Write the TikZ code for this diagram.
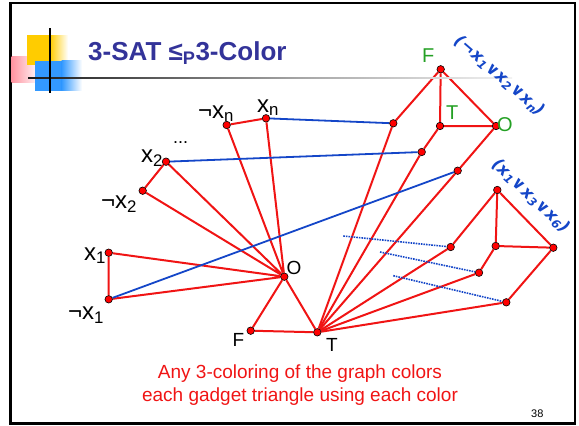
\documentclass[tikz,border=0pt]{standalone}
\usepackage{fontspec}
\setmainfont{Liberation Sans}
\newfontfamily\clausefont{DejaVu Sans}
\usetikzlibrary{
  positioning,
  calc,
  backgrounds
}
\definecolor{scTitle}{HTML}{333399}
\definecolor{scRed}{HTML}{F01414}
\definecolor{scBlue}{HTML}{1446C8}
\definecolor{scGreen}{HTML}{24A024}
\definecolor{scYellow}{HTML}{FFCC00}
\definecolor{scSky}{HTML}{3399FF}
\definecolor{scPink}{HTML}{FF7A8A}
\tikzset{
  vtx/.style={circle, draw=black, fill=red, line width=0.6pt, inner sep=0pt, minimum size=7.5pt},
  gedge/.style={scRed, line width=2pt},
  link/.style={scBlue, line width=1.8pt},
  hint/.style={scBlue, line width=1.6pt, densely dotted},
  lit/.style={font=\fontsize{24}{24}\selectfont, inner sep=0pt, anchor=base west},
  clr/.style={font=\fontsize{19}{19}\selectfont, inner sep=0pt, anchor=base west},
  gclr/.style={clr, text=scGreen, font=\fontsize{20}{20}\selectfont},
  clause/.style={font=\clausefont\bfseries\itshape\fontsize{16.5}{16.5}\selectfont, text=scBlue, inner sep=0pt},
  note/.style={font=\fontsize{19}{23}\selectfont, text=scRed, align=center, inner sep=0pt}
}

\begin{document}
\begin{tikzpicture}[x=1pt, y=-1pt]
  \useasboundingbox (0,0) rectangle (579,426);
  \draw[line width=2.2pt] (10.5,3) rectangle (575,423.5);
  % title decoration
  \shade[left color=scPink!80, right color=scPink!15] (11.7,56) rectangle (35,82.7);
  \fill[scYellow] (26.7,35) rectangle (50,65);
  \shade[left color=scYellow, right color=white] (50,35) rectangle (68,65);
  \fill[scSky] (35,60.7) rectangle (61.7,90.7);
  \shade[left color=scSky, right color=white] (61.7,60.7) rectangle (82,90.7);
  \shade[left color=black!90, right color=black!35] (28,77) rectangle (300,78.4);
  \shade[left color=black!35, right color=black!5] (300,77) rectangle (512,78.4);
  \draw[line width=1.8pt] (50,28.3) -- (50,93.3);
  \node[font=\bfseries\fontsize{26}{26}\selectfont, text=scTitle, anchor=base west, inner sep=0pt] (title)
    at (88,60.7) {3-SAT ≤\textsubscript{P}3-Color};

  % variable gadgets and base triangle
  \node[vtx] (nxn) at (226.7,125) {};
  \node[vtx] (xn) at (266,118.3) {};
  \node[vtx] (x2) at (166,161.7) {};
  \node[vtx] (nx2) at (142.7,190.7) {};
  \node[vtx] (x1) at (108.7,252.7) {};
  \node[vtx] (nx1) at (108.7,299.3) {};
  \node[vtx] (O) at (284.3,276.7) {};
  \node[vtx] (F) at (250.7,330.7) {};
  \node[vtx] (T) at (317.3,332.3) {};
  % clause gadget 1
  \node[vtx] (aF) at (440.7,69.3) {};
  \node[vtx] (aT) at (440,126) {};
  \node[vtx] (aO) at (496,126) {};
  \node[vtx] (a1) at (393.3,123.3) {};
  \node[vtx] (a2) at (421.7,152) {};
  \node[vtx] (a3) at (457.7,170.7) {};
  % clause gadget 2
  \node[vtx] (bF) at (497.3,190) {};
  \node[vtx] (bT) at (495.7,246) {};
  \node[vtx] (bO) at (553.3,247.7) {};
  \node[vtx] (b1) at (450.7,247) {};
  \node[vtx] (b2) at (479,272.7) {};
  \node[vtx] (b3) at (506.3,302.3) {};
  \coordinate (h1) at (343.3,236);
  \coordinate (h2) at (380,252);
  \coordinate (h3) at (393.3,275.7);

  \begin{scope}[on background layer]
    \draw[gedge] (x1) -- (nx1) -- (O) -- (x1);
    \draw[gedge] (x2) -- (nx2) -- (O) -- (x2);
    \draw[gedge] (nxn) -- (xn) -- (O) -- (nxn);
    \draw[gedge] (O) -- (F) -- (T) -- (O);
    \draw[gedge] (aF) -- (aT) -- (aO) -- (aF);
    \draw[gedge] (aF) -- (a1) -- (T); \draw[gedge] (aT) -- (a2) -- (T); \draw[gedge] (aO) -- (a3) -- (T);
    \draw[gedge] (bF) -- (bT) -- (bO) -- (bF);
    \draw[gedge] (bF) -- (b1) -- (T); \draw[gedge] (bT) -- (b2) -- (T); \draw[gedge] (bO) -- (b3) -- (T);
    \draw[link] (xn) -- (a1); \draw[link] (x2) -- (a2); \draw[link] (nx1) -- (a3);
    \draw[hint] (h1) -- (b1); \draw[hint] (h2) -- (b2); \draw[hint] (h3) -- (b3);
  \end{scope}

  % labels
  \node[lit] (lnxn) at (198,118) {¬x\textsubscript{n}};
  \node[lit] (lxn) at (257,112) {x\textsubscript{n}};
  \node[lit, font=\fontsize{18}{18}\selectfont] (ldots) at (173,143) {...};
  \node[lit] (lx2) at (141,162.7) {x\textsubscript{2}};
  \node[lit] (lnx2) at (101,208.3) {¬x\textsubscript{2}};
  \node[lit] (lx1) at (84,260) {x\textsubscript{1}};
  \node[lit] (lnx1) at (68,319.3) {¬x\textsubscript{1}};
  \node[clr] (lO) at (286.5,274.3) {O};
  \node[clr] (lF) at (232.5,346.7) {F};
  \node[clr] (lT) at (326,351) {T};
  \node[gclr] (laF) at (422,62.7) {F};
  \node[gclr] (laT) at (446,119.3) {T};
  \node[gclr] (laO) at (497,131.7) {O};
  \node[clause, rotate=-41] (cA) at (500,76)
    {(¬x\textsubscript{1}{\upshape∨}x\textsubscript{2}{\upshape∨}x\textsubscript{n})};
  \node[clause, rotate=-43] (cB) at (531,196)
    {(x\textsubscript{1}{\upshape∨}x\textsubscript{3}{\upshape∨}x\textsubscript{6})};
  \node[note] (msg) at (300,385) {Any 3-coloring of the graph colors\\each gadget triangle using each color};
  \node[font=\fontsize{11}{11}\selectfont, anchor=base west, inner sep=0pt] (pg) at (531,417) {38};
\end{tikzpicture}
\end{document}
